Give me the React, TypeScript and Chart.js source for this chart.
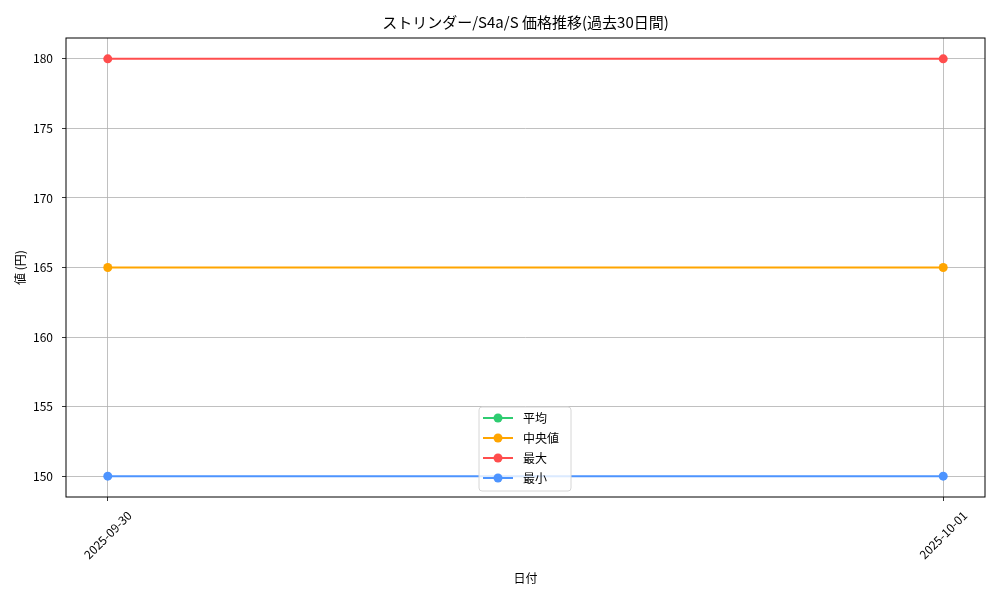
import { useEffect, useRef } from "react";
import { Chart, registerables } from "chart.js";

Chart.register(...registerables);

// data
const dates = ["2025-09-30", "2025-10-01"];
const avgValues = [165, 165];
const medianValues = [165, 165];
const maxValues = [180, 180];
const minValues = [150, 150];
const yTicks = [150, 155, 160, 165, 170, 175, 180];

const seriesNames = ["平均", "中央値", "最大", "最小"];
const seriesColors = ["#2ecc71", "#ffa500", "#ff4d4d", "#4d94ff"];

const FONT = '"Noto Sans CJK JP", "DejaVu Sans", sans-serif';

const toPoints = (vals: number[]) => vals.map((v, i) => ({ x: i, y: v }));

// draws title, axis titles, rotated date labels, frame and legend
const decorPlugin = {
  id: "decor",
  afterDraw(chart: any) {
    const ctx = chart.ctx;
    const area = chart.chartArea;
    const xs = chart.scales.x;
    ctx.save();

    // frame
    ctx.strokeStyle = "#000";
    ctx.lineWidth = 1;
    ctx.strokeRect(area.left, area.top, area.right - area.left, area.bottom - area.top);

    const cx = (area.left + area.right) / 2;
    ctx.fillStyle = "#000";
    ctx.textAlign = "center";
    ctx.textBaseline = "middle";

    // title
    ctx.font = `15px ${FONT}`;
    ctx.fillText("ストリンダー/S4a/S 価格推移(過去30日間)", cx, 22);

    // x axis title
    ctx.font = `12px ${FONT}`;
    ctx.fillText("日付", cx, 578);

    // y axis title
    ctx.save();
    ctx.translate(20, (area.top + area.bottom) / 2);
    ctx.rotate(-Math.PI / 2);
    ctx.fillText("値 (円)", 0, 0);
    ctx.restore();

    // x tick labels, rotated 45 deg, centred on the tick
    dates.forEach((d, i) => {
      const px = xs.getPixelForValue(i);
      ctx.save();
      ctx.translate(px, area.bottom + 38);
      ctx.rotate(-Math.PI / 4);
      ctx.fillText(d, 0, 0);
      ctx.restore();
    });

    // legend
    const lx = 479, ly = 407, lw = 92, lh = 84;
    ctx.beginPath();
    ctx.roundRect(lx, ly, lw, lh, 3);
    ctx.fillStyle = "rgba(255,255,255,0.8)";
    ctx.fill();
    ctx.strokeStyle = "#d6d6d6";
    ctx.lineWidth = 1;
    ctx.stroke();

    ctx.textAlign = "left";
    seriesNames.forEach((name, i) => {
      const y = 418 + i * 20;
      ctx.strokeStyle = seriesColors[i];
      ctx.lineWidth = 2;
      ctx.beginPath();
      ctx.moveTo(483, y);
      ctx.lineTo(513, y);
      ctx.stroke();
      ctx.fillStyle = seriesColors[i];
      ctx.beginPath();
      ctx.arc(498, y, 4.5, 0, Math.PI * 2);
      ctx.fill();
      ctx.fillStyle = "#000";
      ctx.fillText(name, 523, y);
    });

    ctx.restore();
  },
};

export default function App() {
  const chartRef = useRef<HTMLCanvasElement | null>(null);

  useEffect(() => {
    document.body.style.margin = "0";
    if (!chartRef.current) return;
    const ctx = chartRef.current.getContext("2d");
    if (!ctx) return;

    const allSeries = [avgValues, medianValues, maxValues, minValues];
    const orders = [4, 3, 2, 1];
    // the average sits under the median line; keep it thin so it stays hidden
    const widths = [1, 2, 2, 2];
    const radii = [3, 4.5, 4.5, 4.5];

    const myChart = new Chart(ctx, {
      type: "line",
      data: {
        datasets: allSeries.map((vals, i) => ({
          label: seriesNames[i],
          data: toPoints(vals),
          borderColor: seriesColors[i],
          backgroundColor: seriesColors[i],
          borderWidth: widths[i],
          pointRadius: radii[i],
          pointHoverRadius: radii[i],
          pointBorderWidth: 0,
          order: orders[i],
        })),
      },
      plugins: [decorPlugin],
      options: {
        responsive: false,
        animation: false,
        devicePixelRatio: 1,
        layout: { padding: { left: 0, top: 38, right: 15, bottom: 0 } },
        plugins: {
          legend: { display: false },
          title: { display: false },
          tooltip: { enabled: false },
        },
        scales: {
          x: {
            type: "linear",
            min: -0.05,
            max: 1.05,
            afterBuildTicks: (scale: any) => {
              scale.ticks = dates.map((_, i) => ({ value: i }));
            },
            afterFit: (scale: any) => {
              scale.height = 103;
            },
            ticks: { display: false },
            border: { display: false },
            grid: {
              color: "#b0b0b0",
              lineWidth: 0.8,
              drawTicks: true,
              tickLength: 4,
              tickColor: "#000",
            },
          },
          y: {
            min: 148.5,
            max: 181.5,
            afterBuildTicks: (scale: any) => {
              scale.ticks = yTicks.map((v) => ({ value: v }));
            },
            afterFit: (scale: any) => {
              scale.width = 66;
            },
            ticks: {
              color: "#000",
              padding: 9,
              font: { family: FONT, size: 12 },
            },
            border: { display: false },
            grid: {
              color: "#b0b0b0",
              lineWidth: 0.8,
              drawTicks: true,
              tickLength: 4,
              tickColor: "#000",
            },
          },
        },
      },
    });

    return () => {
      myChart.destroy();
    };
  }, []);

  return (
    <div style={{ width: 1000, height: 600, background: "#fff" }}>
      <canvas ref={chartRef} width="1000" height="600"></canvas>
    </div>
  );
}
